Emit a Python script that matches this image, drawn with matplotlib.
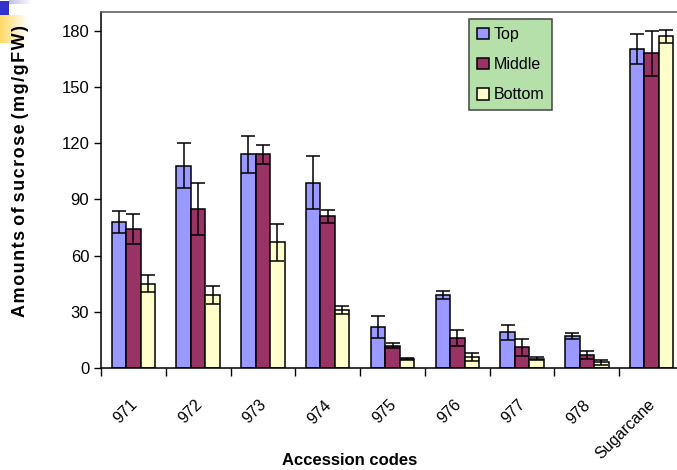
import numpy as np
import matplotlib
matplotlib.use('Agg')
import matplotlib.pyplot as plt
import matplotlib.transforms as mtransforms

plt.rcParams['font.family'] = ['Liberation Sans', 'DejaVu Sans']

accessions = ['971', '972', '973', '974', '975', '976', '977', '978', 'Sugarcane']
top = [78, 108, 114, 99, 22, 39, 19, 17, 170]
middle = [74, 85, 114, 81, 12, 16, 11, 7, 168]
bottom = [45, 39, 67, 31, 5, 6, 5, 3, 177]
top_err = [6, 12, 10, 14, 6, 2, 4, 1.5, 8]
middle_err = [8, 14, 5, 3.5, 1.5, 4.3, 4.4, 2.3, 12]
bottom_err = [4.5, 5, 10, 2, 0.6, 2.2, 0.7, 1.3, 3.5]

W, H = 677, 470
fig = plt.figure(figsize=(W / 100, H / 100), dpi=100)


def px_axes(x0, y0, x1, y1):
    # axes placed by pixel box (top-left origin)
    return fig.add_axes([x0 / W, 1 - y1 / H, (x1 - x0) / W, (y1 - y0) / H])


# little slide ornament in the corner
def gradient(ax, c0, c1):
    t = np.linspace(0, 1, 64)
    img = np.array(c0)[None, :] * (1 - t)[:, None] + np.array(c1)[None, :] * t[:, None]
    ax.imshow(img[None, :, :], aspect='auto', extent=(0, 1, 0, 1))
    ax.set_axis_off()

gradient(px_axes(0, 15, 28, 43), (1.0, 0.85, 0.4), (1.0, 1.0, 1.0))
gradient(px_axes(9, 0, 32, 4), (0.75, 0.75, 0.92), (1.0, 1.0, 1.0))
sq = px_axes(0, 1, 9, 15)
sq.set_facecolor('#3333cc')
sq.set_xticks([])
sq.set_yticks([])
for s in sq.spines.values():
    s.set_visible(False)

ax = px_axes(101, 12, 684, 368)

x = np.arange(len(accessions)) + 0.5
bw = 0.224
err_kw = dict(ecolor='black', elinewidth=1.1, capsize=5, capthick=1.1)
series = [
    (top, top_err, '#9999ff', 'Top'),
    (middle, middle_err, '#993366', 'Middle'),
    (bottom, bottom_err, '#ffffcc', 'Bottom'),
]
for i, (vals, errs, col, lab) in enumerate(series):
    ax.bar(x + (i - 1) * bw, vals, bw, yerr=errs, color=col, edgecolor='black',
           linewidth=1.1, label=lab, error_kw=err_kw, zorder=2)

ax.set_xlim(0, len(accessions))
ax.set_ylim(0, 190)
ax.set_yticks(range(0, 181, 30))
ax.tick_params(axis='y', labelsize=12, length=5, width=1, direction='out')

ax.set_xticks(np.arange(len(accessions) + 1))
ax.set_xticklabels([])
ax.tick_params(axis='x', which='major', length=6, width=1, direction='out')
ax.set_xticks(x, minor=True)
ax.set_xticklabels(accessions, minor=True, rotation=45, ha='right',
                   rotation_mode='anchor', fontsize=11.5)
ax.tick_params(axis='x', which='minor', length=0, pad=21)
shift = mtransforms.ScaledTranslation(-4 / 100, 0, fig.dpi_scale_trans)
for lbl in ax.get_xticklabels(minor=True):
    lbl.set_transform(lbl.get_transform() + shift)

for s in ax.spines.values():
    s.set_linewidth(1.1)
ax.spines['top'].set_color('#555555')

# y label is letter-spaced with hair spaces
ylab = 'Amounts of sucrose (mg/gFW)'
ylab = ' '.join('\u200a'.join(w) for w in ylab.split(' '))
ax.set_ylabel(ylab, fontsize=13, fontweight='bold')
ax.yaxis.set_label_coords((29 - 101) / 583, (368 - 171) / 356)
ax.set_xlabel('Accession codes', fontsize=12, fontweight='bold')
ax.xaxis.set_label_coords((350 - 101) / 583, -0.24)

leg = ax.legend(loc='upper left', bbox_to_anchor=(469 / W, 1 - 19 / H),
                bbox_transform=fig.transFigure, fontsize=11.5, frameon=True,
                fancybox=False, handlelength=0.75, handleheight=0.75,
                handletextpad=0.3, labelspacing=0.95, borderpad=0.5,
                borderaxespad=0)
leg.get_frame().set_facecolor('#b6e0aa')
leg.get_frame().set_edgecolor('#444444')
leg.get_frame().set_linewidth(1.1)
leg.get_frame().set_alpha(1)

fig.savefig('out.png', dpi=100)
